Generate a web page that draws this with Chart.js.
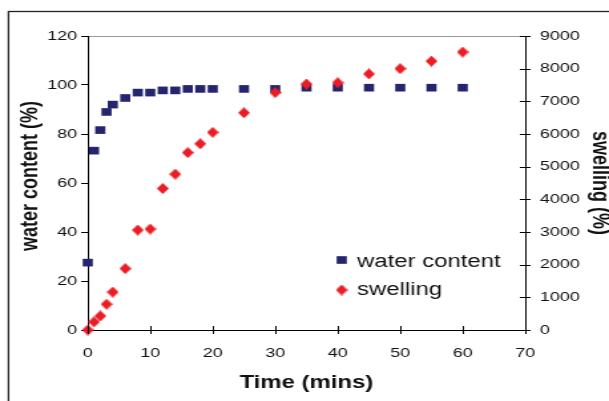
<!DOCTYPE html>
<html>
<head>
<meta charset="utf-8">
<script src="https://cdn.jsdelivr.net/npm/chart.js@4.4.0/dist/chart.umd.min.js"></script>
<style>
html,body{margin:0;padding:0;background:#fff;overflow:hidden}
canvas{display:block}
</style>
</head>
<body>
<canvas id="c" width="458" height="401" style="width:609px;height:401px"></canvas>
<script>
// ---- data ----
const timeMins     = [0, 1, 2, 3, 4, 6, 8, 10, 12, 14, 16, 18, 20, 25, 30, 35, 40, 45, 50, 55, 60];
const waterContent = [27.5, 73.2, 81.6, 89, 92, 94.7, 96.9, 96.9, 97.8, 97.8, 98.4, 98.4, 98.4, 98.4, 98.4, 98.9, 98.9, 98.9, 98.9, 98.9, 98.9];
const swelling     = [0, 250, 430, 790, 1160, 1880, 3060, 3090, 4330, 4770, 5430, 5700, 6050, 6650, 7270, 7530, 7570, 7840, 8000, 8230, 8510];
const xTickValues     = [0, 10, 20, 30, 40, 50, 60, 70];
const leftTickValues  = [0, 20, 40, 60, 80, 100, 120];
const rightTickValues = [0, 1000, 2000, 3000, 4000, 5000, 6000, 7000, 8000, 9000];
const seriesLabels = ['water content', 'swelling'];
const leftAxisTitle = 'water content (%)';

const FONT = '"Liberation Sans", Arial, sans-serif';
const NAVY = '#25256f';
const RED = '#ec1c24';

// diamond marker (slightly taller than wide)
const diamond = document.createElement('canvas');
diamond.width = 9; diamond.height = 11;
(function(){
  const g = diamond.getContext('2d');
  g.fillStyle = RED;
  g.beginPath();
  g.moveTo(4.5, 0); g.lineTo(9, 5.5); g.lineTo(4.5, 11); g.lineTo(0, 5.5); g.closePath();
  g.fill();
})();

const frame = {
  id: 'frame',
  beforeDraw(chart) {
    const ctx = chart.ctx;
    ctx.save();
    ctx.strokeStyle = '#222';
    ctx.lineWidth = 1.3;
    ctx.strokeRect(6.4, 11.5, 1000, 1000);
    ctx.restore();
  }
};

const crossTicks = {
  id: 'crossTicks',
  afterDraw(chart) {
    const ctx = chart.ctx, xs = chart.scales.x, yr = chart.scales.y2, a = chart.chartArea;
    ctx.save();
    ctx.strokeStyle = '#000';
    ctx.lineWidth = 1;
    ctx.beginPath();
    xs.ticks.forEach(t => {
      const px = Math.round(xs.getPixelForValue(t.value)) + 0.5;
      ctx.moveTo(px, a.bottom - 4); ctx.lineTo(px, a.bottom + 4);
    });
    yr.ticks.forEach(t => {
      const py = Math.round(yr.getPixelForValue(t.value)) + 0.5;
      ctx.moveTo(a.right - 4, py); ctx.lineTo(a.right + 4, py);
    });
    ctx.stroke();
    ctx.restore();
  }
};

const leftTitle = {
  id: 'leftTitle',
  afterDraw(chart) {
    const ctx = chart.ctx, a = chart.chartArea;
    ctx.save();
    ctx.translate(23.3, a.top + 140);
    ctx.rotate(-Math.PI / 2);
    ctx.font = 'bold 18px ' + FONT;
    ctx.fillStyle = '#111';
    ctx.textAlign = 'center';
    ctx.textBaseline = 'middle';
    ctx.fillText(leftAxisTitle, 0, 0);
    ctx.restore();
  }
};

const inlineLegend = {
  id: 'inlineLegend',
  afterDraw(chart) {
    const ctx = chart.ctx, a = chart.chartArea;
    const rows = [{my: a.top + 224, by: a.top + 230.5}, {my: a.top + 254, by: a.top + 258.5}];
    ctx.save();
    ctx.font = '18px ' + FONT;
    ctx.textBaseline = 'alphabetic';
    ctx.textAlign = 'left';
    chart.data.datasets.forEach((ds, i) => {
      const r = rows[i];
      ctx.fillStyle = ds.backgroundColor;
      ctx.strokeStyle = ds.backgroundColor;
      Chart.helpers.drawPoint(ctx, {pointStyle: ds.pointStyle, radius: ds.pointRadius, rotation: 0, borderWidth: 0}, a.left + 191, r.my);
      ctx.fillStyle = '#111';
      ctx.fillText(ds.label, a.left + 202.5, r.by);
    });
    ctx.restore();
  }
};

const setTicks = vals => scale => { scale.ticks = vals.map(v => ({value: v})); };
const plain = v => String(v);

new Chart(document.getElementById('c'), {
  type: 'scatter',
  data: {
    datasets: [
      {
        label: seriesLabels[0],
        data: timeMins.map((t, i) => ({x: t, y: waterContent[i]})),
        yAxisID: 'y',
        pointStyle: 'rect',
        pointRadius: 5.4,
        pointBorderWidth: 0,
        backgroundColor: NAVY,
        borderColor: NAVY,
        order: 1,
        clip: false
      },
      {
        label: seriesLabels[1],
        data: timeMins.map((t, i) => ({x: t, y: swelling[i]})),
        yAxisID: 'y2',
        pointStyle: diamond,
        pointRadius: 5.5,
        pointBorderWidth: 0,
        backgroundColor: RED,
        borderColor: RED,
        order: 0,
        clip: false
      }
    ]
  },
  options: {
    responsive: false,
    devicePixelRatio: 1,
    animation: false,
    events: [],
    layout: {padding: {top: 36, left: 0, right: 0, bottom: 0}},
    plugins: {legend: {display: false}, tooltip: {enabled: false}},
    scales: {
      x: {
        type: 'linear', min: 0, max: 70,
        afterBuildTicks: setTicks(xTickValues),
        afterFit: s => { s.height = 71; },
        grid: {drawOnChartArea: false, drawTicks: false},
        border: {display: true, color: '#000', width: 1},
        ticks: {font: {family: FONT, size: 13.5}, color: '#111', padding: 15, maxRotation: 0, callback: plain},
        title: {display: true, text: 'Time (mins)', color: '#111',
                font: {family: FONT, size: 18, weight: 'bold', lineHeight: 1}, padding: {top: 0, bottom: 9}}
      },
      y: {
        type: 'linear', position: 'left', min: 0, max: 120,
        afterBuildTicks: setTicks(leftTickValues),
        afterFit: s => { s.width = 66; },
        grid: {drawOnChartArea: true, drawTicks: true, tickLength: 5, tickColor: '#000',
               color: c => (c.tick && c.tick.value === 120) ? '#9a9a9a' : 'rgba(0,0,0,0)'},
        border: {display: true, color: '#000', width: 1},
        ticks: {font: {family: FONT, size: 13.5}, color: '#111', padding: 3, callback: plain},
        title: {display: false}
      },
      y2: {
        type: 'linear', position: 'right', min: 0, max: 9000,
        afterBuildTicks: setTicks(rightTickValues),
        afterFit: s => { s.width = 63; },
        grid: {drawOnChartArea: false, drawTicks: false},
        border: {display: true, color: '#000', width: 1},
        ticks: {font: {family: FONT, size: 13.5}, color: '#111', padding: 11, callback: plain},
        title: {display: true, text: 'swelling (%)', color: '#111',
                font: {family: FONT, size: 18, weight: 'bold', lineHeight: 1}, padding: {top: -2, bottom: 0}}
      }
    }
  },
  plugins: [frame, crossTicks, leftTitle, inlineLegend]
});
</script>
</body>
</html>
